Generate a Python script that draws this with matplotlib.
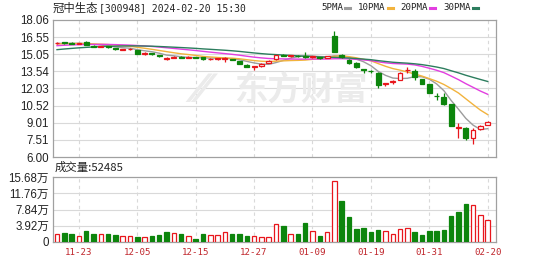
import numpy as np
import matplotlib
matplotlib.use("Agg")
import matplotlib.pyplot as plt
from matplotlib.patches import Rectangle

# ---- data -------------------------------------------------------------
dates = ["11-20", "11-21", "11-22", "11-23", "11-24", "11-27", "11-28", "11-29", "11-30",
         "12-01", "12-04", "12-05", "12-06", "12-07", "12-08", "12-11", "12-12", "12-13",
         "12-14", "12-15", "12-18", "12-19", "12-20", "12-21", "12-22", "12-25", "12-26",
         "12-27", "12-28", "12-29", "01-02", "01-03", "01-04", "01-05", "01-08", "01-09",
         "01-10", "01-11", "01-12", "01-15", "01-16", "01-17", "01-18", "01-19", "01-22",
         "01-23", "01-24", "01-25", "01-26", "01-29", "01-30", "01-31", "02-01", "02-02",
         "02-05", "02-06", "02-07", "02-08", "02-19", "02-20"]

opens = [16.00, 16.08, 16.02, 15.96, 16.15, 15.80, 15.70, 15.74, 15.60, 15.45,
         15.48, 15.42, 15.08, 15.12, 15.00, 14.64, 14.72, 14.80, 14.74, 14.80,
         14.76, 14.60, 14.62, 14.66, 14.62, 14.45, 14.12, 13.90, 14.05, 14.30,
         14.60, 15.00, 14.88, 14.92, 14.88, 14.78, 14.80, 14.74, 16.65, 14.95,
         14.54, 14.30, 13.72, 13.60, 13.43, 12.45, 12.60, 12.78, 13.62, 13.57,
         12.84, 12.40, 11.40, 11.31, 10.64, 8.55, 8.58, 7.65, 8.44, 8.82]
highs = [16.12, 16.12, 16.08, 16.05, 16.20, 15.85, 15.80, 15.76, 15.62, 15.55,
         15.56, 15.45, 15.20, 15.15, 15.02, 14.78, 14.85, 14.85, 14.86, 14.84,
         14.80, 14.70, 14.72, 14.76, 14.66, 14.48, 14.16, 14.02, 14.30, 14.50,
         15.02, 15.05, 15.00, 14.98, 15.27, 14.90, 14.84, 14.90, 17.12, 15.10,
         14.60, 14.35, 13.75, 13.68, 13.48, 12.52, 12.75, 13.45, 13.90, 13.72,
         12.90, 12.45, 11.61, 11.66, 10.70, 9.02, 8.62, 8.53, 8.80, 9.15]
lows = [15.95, 15.98, 15.95, 15.92, 15.84, 15.68, 15.66, 15.60, 15.45, 15.40,
        15.44, 15.05, 15.02, 15.02, 14.82, 14.58, 14.68, 14.68, 14.70, 14.72,
        14.58, 14.55, 14.58, 14.35, 14.50, 14.15, 13.92, 13.70, 13.95, 14.25,
        14.55, 14.85, 14.84, 14.80, 14.69, 14.74, 14.66, 14.70, 15.20, 14.75,
        14.20, 13.85, 13.40, 13.37, 12.05, 12.28, 12.43, 12.75, 13.37, 12.78,
        12.40, 11.63, 11.02, 10.58, 8.70, 7.65, 7.50, 7.12, 8.40, 8.78]
closes = [16.06, 16.02, 15.98, 16.01, 15.86, 15.71, 15.75, 15.64, 15.48, 15.50,
          15.52, 15.10, 15.15, 15.07, 14.85, 14.69, 14.78, 14.72, 14.80, 14.75,
          14.62, 14.65, 14.68, 14.72, 14.55, 14.20, 13.95, 13.98, 14.20, 14.45,
          14.98, 14.92, 14.95, 14.88, 14.80, 14.86, 14.72, 14.85, 15.27, 14.83,
          14.25, 13.90, 13.66, 13.55, 12.34, 12.49, 12.72, 13.43, 13.66, 13.07,
          12.43, 11.66, 11.37, 10.67, 8.73, 8.60, 7.65, 8.38, 8.73, 9.11]
# closes of the sessions before the first drawn day (feed the moving averages)
earlier_closes = [14.3, 14.4, 14.5, 14.6, 14.7, 14.8, 14.9, 15.0, 15.1, 15.2,
                  15.3, 15.4, 15.5, 15.6, 15.6, 15.7, 15.7, 15.8, 15.9, 16.0,
                  15.8, 15.9, 15.9, 16.0, 15.9, 16.0, 15.95, 16.0, 15.99]
# volume in units of 万 (10,000 shares)
volumes = [1.93, 2.10, 2.00, 1.45, 2.58, 2.00, 2.00, 2.00, 1.60, 1.45,
           1.45, 1.28, 1.20, 1.45, 1.80, 2.40, 2.10, 2.00, 1.45, 0.70,
           1.90, 1.60, 1.60, 2.40, 2.00, 1.90, 1.45, 1.45, 1.20, 1.20,
           4.27, 3.93, 1.86, 1.86, 4.50, 2.73, 1.53, 2.34, 14.70, 9.90,
           5.96, 3.06, 3.45, 2.34, 2.97, 2.73, 1.93, 3.06, 3.38, 2.34,
           1.76, 2.58, 2.73, 2.97, 6.20, 7.17, 9.17, 8.93, 6.51, 5.2485]

price_ticks = [6.00, 7.51, 9.01, 10.52, 12.03, 13.54, 15.05, 16.55, 18.06]
vol_ticks = [0, 3.92, 7.84, 11.76, 15.68]
vol_tick_labels = ["0", "3.92万", "7.84万", "11.76万", "15.68万"]
date_ticks = ["11-23", "12-05", "12-15", "12-27", "01-09", "01-19", "01-31", "02-20"]
ma_periods = [5, 10, 20, 30]
ma_names = ["5PMA", "10PMA", "20PMA", "30PMA"]

# ---- style ------------------------------------------------------------
UP = "#e8161c"
DOWN = "#0c850c"
GRID = "#d9d9d9"
FRAME = "#a0a0a0"
MA_COLORS = ["#9c9c9c", "#f2b33d", "#e23ee0", "#2c7d5e"]
TXT = "#222222"
NUM_FONT = ["Liberation Sans", "Noto Sans CJK SC"]
MONO_FONT = ["DejaVu Sans Mono", "Noto Sans CJK SC"]
CJK_FONT = ["Noto Sans CJK SC", "DejaVu Sans"]

W, H = 549, 262
fig = plt.figure(figsize=(W / 100, H / 100), dpi=100)
fig.patch.set_facecolor("white")


def px_axes(left, top, right, bottom):
    return fig.add_axes([left / W, 1 - bottom / H, (right - left) / W, (bottom - top) / H])


ax = px_axes(53, 20, 496, 157)
axv = px_axes(53, 177, 496, 242)

n = len(closes)
x = np.arange(n)
xlim = (-0.55, n + 0.14)
date_idx = [dates.index(d) for d in date_ticks]

closes_a = np.array(closes)
all_closes = np.array(earlier_closes + closes)
prev_close = all_closes[len(earlier_closes) - 1:-1]

for a in (ax, axv):
    a.set_xlim(*xlim)
    a.set_facecolor("white")
    for s in a.spines.values():
        s.set_color(FRAME)
        s.set_linewidth(0.9)
    a.tick_params(length=0, pad=3)
    a.set_xticks([])
    for i in date_idx:
        a.axvline(i, color=GRID, lw=0.8, ls=(0, (3, 3)), zorder=0)

# ---- price panel --------------------------------------------------------
ax.set_ylim(6.00, 18.06)
ax.set_yticks(price_ticks)
ax.set_yticklabels(["%.2f" % t for t in price_ticks], fontsize=8.3,
                   family=NUM_FONT, color=TXT)
for t in price_ticks[1:-1]:
    ax.axhline(t, color=GRID, lw=0.8, zorder=0)

# watermark
ax.text(0.56, 0.48, "东方财富", transform=ax.transAxes, fontsize=24,
        family=CJK_FONT, fontweight="bold", color="#ebebeb",
        ha="center", va="center", zorder=0)
ax.text(0.335, 0.48, "⁄⁄", transform=ax.transAxes, fontsize=27,
        family=["DejaVu Sans"], fontweight="bold", color="#ebebeb",
        ha="center", va="center", zorder=0, style="italic")

# moving averages
for p, c in zip(ma_periods, MA_COLORS):
    ma = np.convolve(all_closes, np.ones(p) / p, mode="valid")[-n:]
    ax.plot(x, ma, color=c, lw=1.0, zorder=2)

bw = 0.66
for i in range(n):
    o, h, l, c = opens[i], highs[i], lows[i], closes[i]
    up = c >= o
    col = UP if up else DOWN
    lo, hi = min(o, c), max(o, c)
    body = max(hi - lo, 0.03)
    ax.vlines(i, l, lo, color=col, lw=0.9, zorder=3)
    ax.vlines(i, lo + body, h, color=col, lw=0.9, zorder=3)
    ax.add_patch(Rectangle((i - bw / 2, lo), bw, body,
                           facecolor="white" if up else col, edgecolor=col,
                           lw=0.9, zorder=4))

# ---- volume panel -------------------------------------------------------
axv.set_ylim(0, 15.68)
axv.set_yticks(vol_ticks)
axv.set_yticklabels(vol_tick_labels, fontsize=8.3, family=NUM_FONT, color=TXT)
for t in vol_ticks[1:-1]:
    axv.axhline(t, color=GRID, lw=0.8, zorder=0)

vol_up = closes_a >= prev_close
vw = 0.62
for i in range(n):
    if vol_up[i]:
        axv.add_patch(Rectangle((i - vw / 2, 0), vw, volumes[i], facecolor="white",
                                edgecolor=UP, lw=0.9, zorder=3))
    else:
        axv.add_patch(Rectangle((i - vw / 2, 0), vw, volumes[i], facecolor=DOWN,
                                edgecolor=DOWN, lw=0.9, zorder=3))

# date labels under the volume panel
for i, d in zip(date_idx, date_ticks):
    axv.text(i, -0.16, d, transform=axv.get_xaxis_transform(), ha="center",
             va="center", fontsize=6.6, family=MONO_FONT, color="#c0262c")

# ---- header texts ------------------------------------------------------
fig.canvas.draw()
rend = fig.canvas.get_renderer()
t1 = fig.text(53 / W, 1 - 8 / H, "冠中生态", fontsize=8.2, family=CJK_FONT,
              color=TXT, ha="left", va="center")
ex = t1.get_window_extent(rend).x1
fig.text((ex + 0.5) / W, 1 - 8 / H, "[300948] 2024-02-20 15:30", fontsize=7.0,
         family=MONO_FONT, color=TXT, ha="left", va="center")
fig.text(55 / W, 1 - 167 / H, "成交量:52485", fontsize=8.2,
         family=["Noto Sans CJK SC", "Liberation Sans"], color=TXT,
         ha="left", va="center")

# legend
lx = 321
for name, c in zip(ma_names, MA_COLORS):
    t = fig.text(lx / W, 1 - 8 / H, name, fontsize=6.6, family=MONO_FONT,
                 color=TXT, ha="left", va="center")
    ex = t.get_window_extent(rend).x1 + 2
    fig.add_artist(plt.Line2D([ex / W, (ex + 5) / W], [1 - 8 / H, 1 - 8 / H],
                              color=c, lw=2.2, transform=fig.transFigure))
    lx = ex + 13

fig.savefig("out.png", dpi=100, facecolor="white")
